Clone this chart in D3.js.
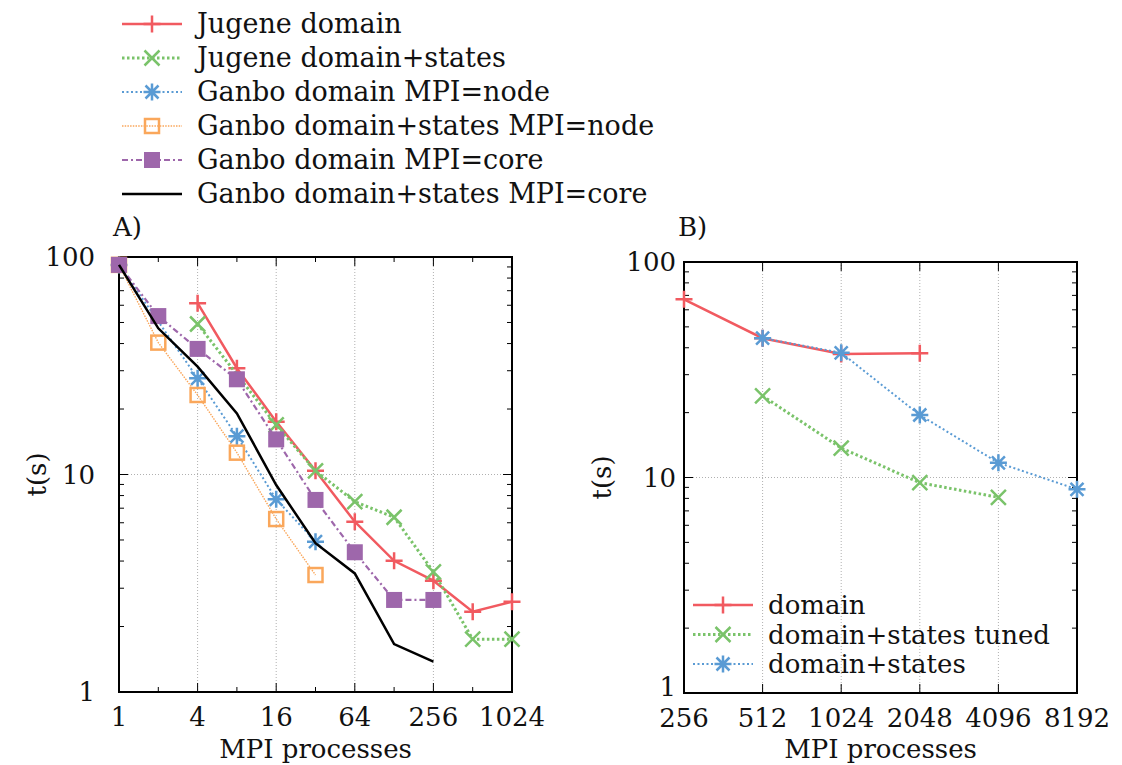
<!DOCTYPE html>
<html>
<head>
<meta charset="utf-8">
<script src="https://cdn.jsdelivr.net/npm/d3@7"></script>
<style>
  body { margin: 0; background: #fff; }
  #chart text { font-family: "DejaVu Serif", "Liberation Serif", serif; }
</style>
</head>
<body>
<svg id="chart" width="1122" height="765"></svg>
<script>
// ---- panel A data (time in seconds vs MPI processes) ----
const jugeneDomainX = [4, 8, 16, 32, 64, 128, 256, 512, 1024];
const jugeneDomainT = [61.3, 30.8, 17.5, 10.4, 6.07, 4.01, 3.25, 2.34, 2.6];
const jugeneStatesX = [4, 16, 32, 64, 128, 256, 512, 1024];
const jugeneStatesT = [49.2, 16.9, 10.4, 7.5, 6.36, 3.57, 1.75, 1.75];
const ganboNodeX = [1, 4, 8, 16, 32];
const ganboNodeT = [92, 27.7, 15.0, 7.69, 4.91];
const ganboStatesNodeX = [1, 2, 4, 8, 16, 32];
const ganboStatesNodeT = [92, 40.4, 23.2, 12.6, 6.24, 3.45];
const ganboCoreX = [1, 2, 4, 8, 16, 32, 64, 128, 256];
const ganboCoreT = [92, 53.5, 37.8, 27.4, 14.5, 7.64, 4.39, 2.65, 2.65];
const ganboStatesCoreX = [1, 2, 4, 8, 16, 32, 64, 128, 256];
const ganboStatesCoreT = [92, 47, 31.3, 19.1, 8.95, 4.83, 3.51, 1.66, 1.38];

// ---- panel B data ----
const bDomainX = [256, 512, 1024, 2048];
const bDomainT = [67.1, 44.3, 37.4, 37.7];
const bTunedX = [512, 1024, 2048, 4096];
const bTunedT = [23.9, 13.7, 9.46, 8.09];
const bStatesX = [512, 1024, 2048, 4096, 8192];
const bStatesT = [44.3, 37.9, 19.5, 11.7, 8.81];

const ticksA = [1, 4, 16, 64, 256, 1024];
const ticksB = [256, 512, 1024, 2048, 4096, 8192];
const yTicks = [1, 10, 100];

// styles per series kind
const sty = {
  red:    {color: "#F15A60", width: 2.5, dash: null,        marker: "plus"},
  green:  {color: "#7AC36A", width: 3,   dash: "2.5,2.5",   marker: "cross"},
  blue:   {color: "#5A9BD4", width: 2,   dash: "2,2.5",     marker: "star"},
  orange: {color: "#FAA75B", width: 1.4, dash: "1.5,1.2",   marker: "square"},
  purple: {color: "#9E67AB", width: 2.2, dash: "6,3,2,3",   marker: "fsquare"},
  black:  {color: "#000000", width: 2.5, dash: null,        marker: null}
};
const FS = 26;

const svg = d3.select("#chart");

function txt(g, x, y, s, anchor) {
  return g.append("text").attr("x", x).attr("y", y).attr("font-size", FS)
    .attr("fill", "#111").attr("text-anchor", anchor || "start").text(s);
}

function drawMarker(g, kind, color, cx, cy) {
  const s = 8.5;
  if (kind == "plus") {
    g.append("path").attr("d", `M${cx-s},${cy}H${cx+s}M${cx},${cy-s}V${cy+s}`)
      .attr("stroke", color).attr("stroke-width", 2.5).attr("fill", "none");
  } else if (kind == "cross") {
    const t = 7.5;
    g.append("path").attr("d", `M${cx-t},${cy-t}L${cx+t},${cy+t}M${cx-t},${cy+t}L${cx+t},${cy-t}`)
      .attr("stroke", color).attr("stroke-width", 2.5).attr("fill", "none");
  } else if (kind == "star") {
    const t = 6.5;
    g.append("path").attr("d", `M${cx-t},${cy-t}L${cx+t},${cy+t}M${cx-t},${cy+t}L${cx+t},${cy-t}M${cx},${cy-s}V${cy+s}M${cx-s},${cy}H${cx+s}`)
      .attr("stroke", color).attr("stroke-width", 2.5).attr("fill", "none");
  } else if (kind == "square") {
    g.append("rect").attr("x", cx-7).attr("y", cy-7).attr("width", 14).attr("height", 14)
      .attr("stroke", color).attr("stroke-width", 2.5).attr("fill", "none");
  } else if (kind == "fsquare") {
    g.append("rect").attr("x", cx-8).attr("y", cy-8).attr("width", 16).attr("height", 16)
      .attr("fill", color);
  }
}

function drawSeries(g, x, y, xs, ts, st) {
  const pts = xs.map((v, i) => [x(v), y(ts[i])]);
  g.append("path").datum(pts)
    .attr("d", d3.line())
    .attr("fill", "none")
    .attr("stroke", st.color)
    .attr("stroke-width", st.width)
    .attr("stroke-dasharray", st.dash);
  if (st.marker) pts.forEach(p => drawMarker(g, st.marker, st.color, p[0], p[1]));
}

function legendRow(g, x0, yRow, label, st, fs) {
  g.append("line").attr("x1", x0).attr("x2", x0+60).attr("y1", yRow).attr("y2", yRow)
    .attr("stroke", st.color).attr("stroke-width", st.width).attr("stroke-dasharray", st.dash);
  if (st.marker) drawMarker(g, st.marker, st.color, x0+30, yRow);
  txt(g, x0+75, yRow+9, label).attr("font-size", fs);
}

function panel(opt) {
  const x = d3.scaleLog().base(2).domain(opt.xdom).range([opt.left, opt.right]);
  const y = d3.scaleLog().domain([1, 100]).range([opt.bottom, opt.top]);
  const g = svg.append("g");

  // grid
  opt.xticks.slice(1, -1).forEach(v => {
    g.append("line").attr("x1", x(v)).attr("x2", x(v)).attr("y1", opt.top).attr("y2", opt.bottom)
      .attr("stroke", "#b0b0b0").attr("stroke-width", 1).attr("stroke-dasharray", "1,2");
  });
  g.append("line").attr("x1", opt.left).attr("x2", opt.right).attr("y1", y(10)).attr("y2", y(10))
    .attr("stroke", "#b0b0b0").attr("stroke-width", 1).attr("stroke-dasharray", "1,2");

  // minor / major ticks on all four sides (inward)
  const yMinor = [];
  [1, 10].forEach(d => { for (let k = 2; k <= 9; k++) yMinor.push(d*k); });
  yMinor.forEach(v => {
    g.append("line").attr("x1", opt.left).attr("x2", opt.left+5).attr("y1", y(v)).attr("y2", y(v)).attr("stroke", "#000");
    g.append("line").attr("x1", opt.right).attr("x2", opt.right-5).attr("y1", y(v)).attr("y2", y(v)).attr("stroke", "#000");
  });
  g.append("line").attr("x1", opt.left).attr("x2", opt.left+9).attr("y1", y(10)).attr("y2", y(10)).attr("stroke", "#000");
  g.append("line").attr("x1", opt.right).attr("x2", opt.right-9).attr("y1", y(10)).attr("y2", y(10)).attr("stroke", "#000");
  const xAll = [];
  for (let v = opt.xdom[0]*2; v < opt.xdom[1]; v *= 2) xAll.push(v);
  xAll.forEach(v => {
    const len = opt.xticks.includes(v) ? 9 : 5;
    g.append("line").attr("x1", x(v)).attr("x2", x(v)).attr("y1", opt.bottom).attr("y2", opt.bottom-len).attr("stroke", "#000");
    g.append("line").attr("x1", x(v)).attr("x2", x(v)).attr("y1", opt.top).attr("y2", opt.top+len).attr("stroke", "#000");
  });

  // frame
  g.append("rect").attr("x", opt.left).attr("y", opt.top)
    .attr("width", opt.right-opt.left).attr("height", opt.bottom-opt.top)
    .attr("fill", "none").attr("stroke", "#000").attr("stroke-width", 2);

  // tick labels
  opt.xticks.forEach(v => txt(g, x(v), opt.bottom+34, v, "middle"));
  yTicks.forEach(v => txt(g, opt.left-opt.yGap, y(v) + (v == 1 ? opt.oneShift : 9), v, "end"));

  // axis titles
  txt(g, (opt.left+opt.right)/2, 758, "MPI processes", "middle");
  g.append("text").attr("transform", `translate(${opt.left-82},${(opt.top+opt.bottom)/2}) rotate(-90)`)
    .attr("text-anchor", "middle").attr("dy", "0.35em").attr("font-size", FS).attr("fill", "#111").text("t(s)");
  txt(g, opt.left-6, 236, opt.title);

  opt.series.forEach(s => drawSeries(g, x, y, s[0], s[1], s[2]));
  return g;
}

panel({
  xdom: [1, 1024], left: 119, right: 512, top: 257, bottom: 692,
  xticks: ticksA, title: "A)", oneShift: 9, yGap: 24,
  series: [
    [jugeneDomainX, jugeneDomainT, sty.red],
    [jugeneStatesX, jugeneStatesT, sty.green],
    [ganboNodeX, ganboNodeT, sty.blue],
    [ganboStatesNodeX, ganboStatesNodeT, sty.orange],
    [ganboCoreX, ganboCoreT, sty.purple],
    [ganboStatesCoreX, ganboStatesCoreT, sty.black]
  ]
});

const gB = panel({
  xdom: [256, 8192], left: 684, right: 1077, top: 262, bottom: 693,
  xticks: ticksB, title: "B)", oneShift: 3, yGap: 8,
  series: [
    [bDomainX, bDomainT, sty.red],
    [bTunedX, bTunedT, sty.green],
    [bStatesX, bStatesT, sty.blue]
  ]
});

// legends
const legA = svg.append("g");
const labelsA = ["Jugene domain", "Jugene domain+states", "Ganbo domain MPI=node",
  "Ganbo domain+states MPI=node", "Ganbo domain MPI=core", "Ganbo domain+states MPI=core"];
const stylesA = [sty.red, sty.green, sty.blue, sty.orange, sty.purple, sty.black];
labelsA.forEach((l, i) => legendRow(legA, 122, 24 + i*34, l, stylesA[i], 27));

const labelsB = ["domain", "domain+states tuned", "domain+states"];
const stylesB = [sty.red, sty.green, sty.blue];
labelsB.forEach((l, i) => legendRow(gB, 693, 605 + i*29.5, l, stylesB[i], 26));
</script>
</body>
</html>
